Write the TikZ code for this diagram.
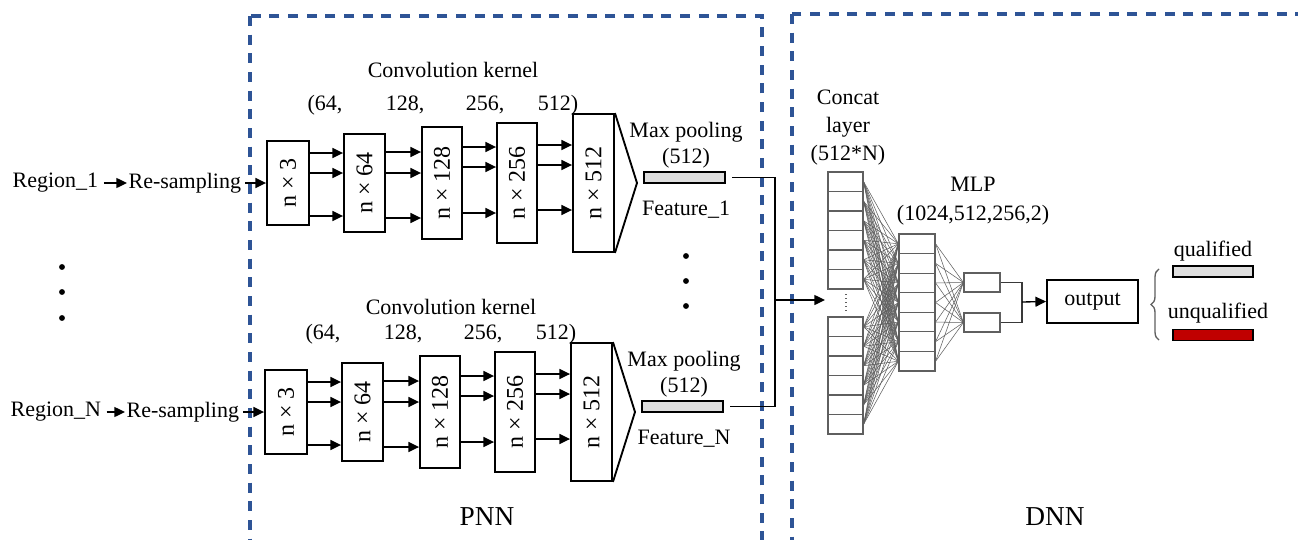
\documentclass[tikz,border=0pt]{standalone}
\usepackage{fontspec}
\usepackage{graphicx}
\setmainfont{Liberation Serif}
\usetikzlibrary{arrows.meta,decorations.pathreplacing}
\definecolor{dashblue}{RGB}{46,84,150}
\definecolor{barred}{RGB}{192,0,0}
\definecolor{bargray}{RGB}{222,222,222}
\definecolor{netgray}{RGB}{95,95,95}

\tikzset{
  txt/.style={inner sep=1pt, font=\fontsize{16.5}{19}\selectfont},
  bigtxt/.style={inner sep=1pt, font=\fontsize{20.5}{24}\selectfont},
  convbox/.style={draw, line width=1.4pt, inner sep=0pt, font=\fontsize{18}{20}\selectfont},
  arr/.style={line width=1pt, -{Triangle[length=8pt,width=7.5pt]}},
  link/.style={line width=0.9pt},
  boxline/.style={line width=1.4pt},
  featbar/.style={draw, line width=1.4pt, minimum width=60.5pt, minimum height=8.25pt, inner sep=0pt},
  cell/.style={draw=netgray, line width=0.9pt, inner sep=0pt},
  net/.style={draw=netgray, line width=0.4pt},
  dashbox/.style={draw=dashblue, line width=2.6pt, dash pattern=on 7.5pt off 6.5pt},
}

% #1 prefix, #2 xshift, #3 yshift, #4 region label, #5 feature label, #6 kernel label y
\newcommand\pnnrow[6]{%
\begin{scope}[shift={(#2,#3)}]
  \node[txt,anchor=west] (#1reg) at (11,183) {#4};
  \node[txt,anchor=west] (#1rs) at (127,183) {Re-sampling};
  \node[convbox,minimum width=31.5pt,minimum height=63pt] (#1c1) at (288,183) {\rotatebox{90}{n × 3}};
  \node[convbox,minimum width=30.75pt,minimum height=73.5pt] (#1c2) at (364.5,183) {\rotatebox{90}{n × 64}};
  \node[convbox,minimum width=30pt,minimum height=84pt] (#1c3) at (442,183) {\rotatebox{90}{n × 128}};
  \node[convbox,minimum width=30pt,minimum height=90pt] (#1c4) at (517,183) {\rotatebox{90}{n × 256}};
  \node[convbox,minimum width=30.75pt,minimum height=103.5pt] (#1c5) at (593.5,183) {\rotatebox{90}{n × 512}};
  \draw[arr,shorten <=3pt] (#1reg.east) -- (#1rs.west);
  \draw[arr,shorten <=2pt] (#1rs.east) -- (#1c1.west);
  \foreach \d in {-30,-10,33} \draw[arr] ([shift={(0,\d)}]#1c1.east) -- ([shift={(0,\d)}]#1c2.west);
  \foreach \d in {-31,-10,35} \draw[arr] ([shift={(0,\d)}]#1c2.east) -- ([shift={(0,\d)}]#1c3.west);
  \foreach \d in {-36,-16,30} \draw[arr] ([shift={(0,\d)}]#1c3.east) -- ([shift={(0,\d)}]#1c4.west);
  \foreach \d in {-38,-18,27} \draw[arr] ([shift={(0,\d)}]#1c4.east) -- ([shift={(0,\d)}]#1c5.west);
  \coordinate (#1apex) at (637,183);
  \draw[boxline] (#1c5.north east) -- (#1apex) -- (#1c5.south east);
  \node[featbar,fill=bargray] (#1bar) at (684.5,177.5) {};
  \node[txt] (#1mp) at (686,132) {Max pooling};
  \node[txt] (#1mpn) at (686,158) {(512)};
  \node[txt] (#1feat) at (686,210) {#5};
  \node[txt] (#1ck) at (453,#6) {Convolution kernel};
  \node[txt] (#1k1) at (325,105) {(64,};
  \node[txt] (#1k2) at (405,105) {128,};
  \node[txt] (#1k3) at (485,105) {256,};
  \node[txt] (#1k4) at (558,105) {512)};
\end{scope}}

\begin{document}
\begin{tikzpicture}[x=0.75pt,y=-0.75pt]
\clip (0,0) rectangle (1298,539);
\fill[white] (0,0) rectangle (1298,539);

% dashed frames
\draw[dashbox] (250,16) rectangle (762,620);
\draw[dashbox] (792,14) rectangle (1320,620);
\node[bigtxt] (pnnlab) at (487,517) {PNN};
\node[bigtxt] (dnnlab) at (1055,517) {DNN};

% two PNN rows
\pnnrow{t}{0}{0}{Region\_1}{Feature\_1}{70}
\pnnrow{b}{-2}{229}{Region\_N}{Feature\_N}{78}

% ellipsis dots
\foreach \y in {267,292,318} \fill (62,\y) circle (2.2pt);
\foreach \y in {256,281,306} \fill (686,\y) circle (2.2pt);

% join to concat layer
\coordinate (join) at (775,300);
\coordinate (catin) at (825,300);
\draw[link] ([xshift=5pt]tbar.east) -| (join);
\draw[link] ([xshift=5pt]bbar.east) -| (join);
\draw[arr] (join) -- (catin);

% concat layer
\node[txt,align=center,font=\fontsize{16.5}{21}\selectfont] (catlab) at (848,128) {Concat\\layer\\(512*N)};
\foreach \i in {0,...,5} {
  \node[cell,minimum width=26.25pt,minimum height=14.625pt] (ct\i) at (845.5,{181.75+19.5*\i}) {};
  \node[cell,minimum width=26.25pt,minimum height=14.625pt] (cb\i) at (845.5,{326.75+19.5*\i}) {};
}
\draw[netgray,line width=1pt,dotted] (846,294) -- (846,312);

% MLP
\node[txt,align=center,font=\fontsize{16.5}{22}\selectfont] (mlplab) at (973,201) {MLP\\(1024,512,256,2)};
\foreach \j in {0,...,6}
  \node[cell,minimum width=27pt,minimum height=14.68pt] (m\j) at (917,{243.8+19.57*\j}) {};
\node[cell,minimum width=27pt,minimum height=14.25pt] (s1) at (982,282.5) {};
\node[cell,minimum width=27pt,minimum height=14.25pt] (s2) at (982,322.5) {};

\foreach \i in {0,...,5}
  \foreach \j in {0,...,6} {
    \draw[net] (ct\i.east) -- (m\j.west);
    \draw[net] (cb\i.east) -- (m\j.west);
  }
\foreach \j in {0,...,6} {
  \draw[net] (m\j.east) -- (s1.west);
  \draw[net] (m\j.east) -- (s2.west);
}

% output
\node[convbox,minimum width=68.25pt,minimum height=32.25pt,font=\fontsize{16.5}{19}\selectfont] (out) at (1092.5,301.5) {output};
\coordinate (j2) at (1022,302);
\draw[link,draw=netgray!60!black] (s1.east) -| (j2);
\draw[link,draw=netgray!60!black] (s2.east) -| (j2);
\draw[arr] (j2) -- (out.west);

% brace and classes
\draw[netgray,line width=1pt,decorate,decoration={brace,amplitude=6pt}] (1159,340) -- (1159,269);
\node[featbar,fill=bargray,minimum width=60pt] (qbar) at (1213,271.5) {};
\node[featbar,fill=barred,minimum width=60pt] (uqbar) at (1213,335) {};
\node[txt] (qlab) at (1213,251) {qualified};
\node[txt] (uqlab) at (1218,313) {unqualified};
\end{tikzpicture}
\end{document}
